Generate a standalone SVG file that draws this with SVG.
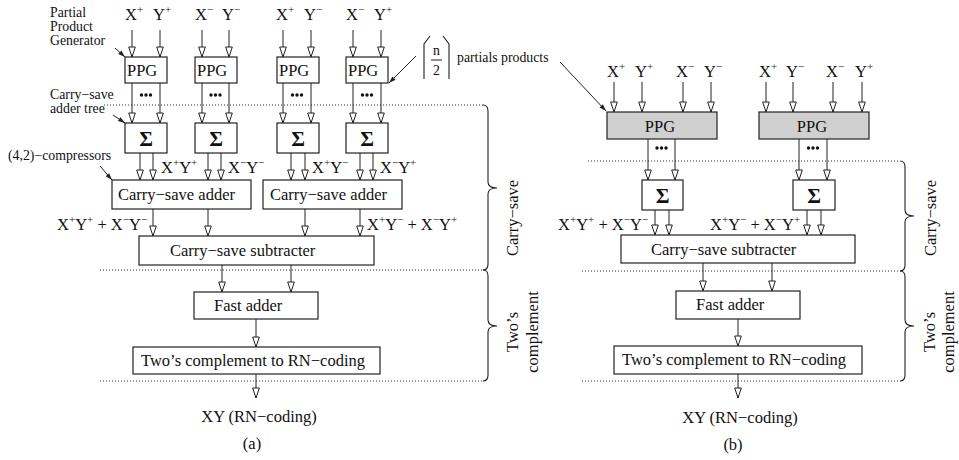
<svg xmlns="http://www.w3.org/2000/svg" width="959" height="460" viewBox="0 0 959 460">
<defs>
<style>
text{font-family:"Liberation Serif","Times New Roman",serif;fill:#111}
.t{font-size:16.5px}
.s{font-size:13.8px}
.sup{font-size:11px}
.sig{font-size:21px;font-weight:bold}
.box{fill:#fff;stroke:#222;stroke-width:1.2}
.gbox{fill:#d0d0d0;stroke:#222;stroke-width:1.2}
.ln{stroke:#222;stroke-width:1;fill:none}
.dot{stroke:#333;stroke-width:1;stroke-dasharray:1 2;fill:none}
.br{stroke:#222;stroke-width:1.1;fill:none}
</style>
<marker id="oa" viewBox="-1 -4.5 12 9" markerWidth="12" markerHeight="9" refX="10" refY="0" orient="auto" markerUnits="userSpaceOnUse"><path d="M0,-3.3 L10,0 L0,3.3 Z" fill="#fff" stroke="#222" stroke-width="1"/></marker>
<marker id="fa" viewBox="-1 -3 9 6" markerWidth="9" markerHeight="6" refX="7" refY="0" orient="auto" markerUnits="userSpaceOnUse"><path d="M0,-2.3 L7,0 L0,2.3 Z" fill="#222"/></marker>
</defs>
<rect width="959" height="460" fill="#fff"/>

<!-- separators and braces -->
<g id="separators">
<path class="dot" d="M104,105 H483 M100,270 H483 M100,381 H483"/>
<path class="dot" d="M588,161 H900 M582,271 H900 M582,381 H900"/>
<path class="br" d="M483,105 Q488,105 488,111 L488,182 Q488,188 497,188 Q488,188 488,194 L488,264 Q488,270 483,270"/>
<path class="br" d="M483,270 Q488,270 488,276 L488,320 Q488,326 497,326 Q488,326 488,332 L488,375 Q488,381 483,381"/>
<path class="br" d="M900,161 Q905,161 905,167 L905,210 Q905,216 914,216 Q905,216 905,222 L905,265 Q905,271 900,271"/>
<path class="br" d="M900,271 Q905,271 905,277 L905,320 Q905,326 914,326 Q905,326 905,332 L905,375 Q905,381 900,381"/>
<text class="t" text-anchor="middle" transform="translate(518,218) rotate(-90)">Carry−save</text>
<text class="t" text-anchor="middle" transform="translate(518,332) rotate(-90)">Two’s</text>
<text class="t" text-anchor="middle" transform="translate(538,332) rotate(-90)">complement</text>
<text class="t" text-anchor="middle" transform="translate(936,218) rotate(-90)">Carry−save</text>
<text class="t" text-anchor="middle" transform="translate(935,332) rotate(-90)">Two’s</text>
<text class="t" text-anchor="middle" transform="translate(954,332) rotate(-90)">complement</text>
</g>

<!-- annotations -->
<g id="annotations">
<text class="s" x="50" y="16.5">Partial</text>
<text class="s" x="50" y="30.5">Product</text>
<text class="s" x="50" y="44.5">Generator</text>
<text class="s" x="50" y="99">Carry−save</text>
<text class="s" x="50" y="113">adder tree</text>
<text class="s" x="8" y="160">(4,2)−compressors</text>
<path class="br" d="M424,79 L424,44 L430,36 M449,79 L449,44 L443,36 M431,60 H442"/>
<text class="s" x="436.5" y="55" text-anchor="middle">n</text>
<text class="s" x="436.5" y="75" text-anchor="middle">2</text>
<text class="s" x="457" y="62">partials products</text>
</g>

<!-- input labels (a) -->
<g id="inputs-a" class="t">
<text x="125" y="20">X<tspan class="sup" dy="-7">+</tspan></text>
<text x="153" y="20">Y<tspan class="sup" dy="-7">+</tspan></text>
<text x="195" y="20">X<tspan class="sup" dy="-7">−</tspan></text>
<text x="222" y="20">Y<tspan class="sup" dy="-7">−</tspan></text>
<text x="276" y="20">X<tspan class="sup" dy="-7">+</tspan></text>
<text x="304" y="20">Y<tspan class="sup" dy="-7">−</tspan></text>
<text x="346" y="20">X<tspan class="sup" dy="-7">−</tspan></text>
<text x="374" y="20">Y<tspan class="sup" dy="-7">+</tspan></text>
</g>
<!-- input labels (b) -->
<g id="inputs-b" class="t">
<text x="607" y="77">X<tspan class="sup" dy="-7">+</tspan></text>
<text x="635" y="77">Y<tspan class="sup" dy="-7">+</tspan></text>
<text x="676" y="77">X<tspan class="sup" dy="-7">−</tspan></text>
<text x="704" y="77">Y<tspan class="sup" dy="-7">−</tspan></text>
<text x="759" y="77">X<tspan class="sup" dy="-7">+</tspan></text>
<text x="786" y="77">Y<tspan class="sup" dy="-7">−</tspan></text>
<text x="826" y="77">X<tspan class="sup" dy="-7">−</tspan></text>
<text x="855" y="77">Y<tspan class="sup" dy="-7">+</tspan></text>
</g>

<!-- nodes (a) -->
<g id="ppg-a1"><rect class="box" x="125" y="57" width="42" height="26"/><text class="t" x="127" y="76">PPG</text></g>
<g id="ppg-a2"><rect class="box" x="195" y="57" width="42" height="26"/><text class="t" x="197" y="76">PPG</text></g>
<g id="ppg-a3"><rect class="box" x="277" y="57" width="42" height="26"/><text class="t" x="279" y="76">PPG</text></g>
<g id="ppg-a4"><rect class="box" x="346" y="57" width="42" height="26"/><text class="t" x="348" y="76">PPG</text></g>
<g id="sum-a1"><rect class="box" x="125" y="123" width="42" height="30"/><text class="sig" x="146" y="145.5" text-anchor="middle">Σ</text></g>
<g id="sum-a2"><rect class="box" x="195" y="123" width="42" height="30"/><text class="sig" x="216" y="145.5" text-anchor="middle">Σ</text></g>
<g id="sum-a3"><rect class="box" x="277" y="123" width="42" height="30"/><text class="sig" x="298" y="145.5" text-anchor="middle">Σ</text></g>
<g id="sum-a4"><rect class="box" x="346" y="123" width="42" height="30"/><text class="sig" x="367" y="145.5" text-anchor="middle">Σ</text></g>
<g id="csa-a1"><rect class="box" x="112" y="180" width="139" height="29"/><text class="t" x="118" y="200">Carry−save adder</text></g>
<g id="csa-a2"><rect class="box" x="263" y="180" width="139" height="29"/><text class="t" x="270" y="200">Carry−save adder</text></g>
<g id="sub-a"><rect class="box" x="139" y="236" width="235" height="29"/><text class="t" x="170" y="256">Carry−save subtracter</text></g>
<g id="fast-a"><rect class="box" x="194" y="292" width="124" height="27"/><text class="t" x="214" y="311">Fast adder</text></g>
<g id="conv-a"><rect class="box" x="133" y="347" width="247" height="27"/><text class="t" x="141" y="366">Two’s complement to RN−coding</text></g>
<g id="out-a"><text class="t" x="259" y="422" text-anchor="middle">XY (RN−coding)</text><text class="t" x="252" y="449" text-anchor="middle">(a)</text></g>

<!-- nodes (b) -->
<g id="ppg-b1"><rect class="gbox" x="607" y="112" width="110" height="27"/><text class="t" x="660" y="132" text-anchor="middle">PPG</text></g>
<g id="ppg-b2"><rect class="gbox" x="759" y="112" width="110" height="27"/><text class="t" x="812" y="132" text-anchor="middle">PPG</text></g>
<g id="sum-b1"><rect class="box" x="642" y="180" width="41" height="30"/><text class="sig" x="662.5" y="202.5" text-anchor="middle">Σ</text></g>
<g id="sum-b2"><rect class="box" x="793" y="180" width="42" height="30"/><text class="sig" x="814" y="202.5" text-anchor="middle">Σ</text></g>
<g id="sub-b"><rect class="box" x="621" y="235" width="234" height="28"/><text class="t" x="651" y="255">Carry−save subtracter</text></g>
<g id="fast-b"><rect class="box" x="676" y="291" width="124" height="28"/><text class="t" x="696" y="310">Fast adder</text></g>
<g id="conv-b"><rect class="box" x="614" y="346" width="248" height="28"/><text class="t" x="622" y="365">Two’s complement to RN−coding</text></g>
<g id="out-b"><text class="t" x="740" y="423" text-anchor="middle">XY (RN−coding)</text><text class="t" x="733" y="450" text-anchor="middle">(b)</text></g>

<!-- intermediate labels -->
<g id="labels" class="t">
<text x="161" y="173">X<tspan class="sup" dy="-7">+</tspan><tspan dy="7">Y</tspan><tspan class="sup" dy="-7">+</tspan></text>
<text x="228" y="173">X<tspan class="sup" dy="-7">−</tspan><tspan dy="7">Y</tspan><tspan class="sup" dy="-7">−</tspan></text>
<text x="312" y="173">X<tspan class="sup" dy="-7">+</tspan><tspan dy="7">Y</tspan><tspan class="sup" dy="-7">−</tspan></text>
<text x="380" y="173">X<tspan class="sup" dy="-7">−</tspan><tspan dy="7">Y</tspan><tspan class="sup" dy="-7">+</tspan></text>
<text x="57" y="230">X<tspan class="sup" dy="-7">+</tspan><tspan dy="7">Y</tspan><tspan class="sup" dy="-7">+</tspan><tspan dy="7"> + X</tspan><tspan class="sup" dy="-7">−</tspan><tspan dy="7">Y</tspan><tspan class="sup" dy="-7">−</tspan></text>
<text x="367" y="230">X<tspan class="sup" dy="-7">+</tspan><tspan dy="7">Y</tspan><tspan class="sup" dy="-7">−</tspan><tspan dy="7"> + X</tspan><tspan class="sup" dy="-7">−</tspan><tspan dy="7">Y</tspan><tspan class="sup" dy="-7">+</tspan></text>
<text x="558" y="230">X<tspan class="sup" dy="-7">+</tspan><tspan dy="7">Y</tspan><tspan class="sup" dy="-7">+</tspan><tspan dy="7"> + X</tspan><tspan class="sup" dy="-7">−</tspan><tspan dy="7">Y</tspan><tspan class="sup" dy="-7">−</tspan></text>
<text x="710" y="230">X<tspan class="sup" dy="-7">+</tspan><tspan dy="7">Y</tspan><tspan class="sup" dy="-7">−</tspan><tspan dy="7"> + X</tspan><tspan class="sup" dy="-7">−</tspan><tspan dy="7">Y</tspan><tspan class="sup" dy="-7">+</tspan></text>
</g>

<!-- connectors -->
<g id="connectors">
<g class="ln" marker-end="url(#oa)">
<path d="M132,30V57"/><path d="M160,30V57"/><path d="M202,30V57"/><path d="M229,30V57"/>
<path d="M283,30V57"/><path d="M311,30V57"/><path d="M353,30V57"/><path d="M381,30V57"/>
<path d="M132,83V123"/><path d="M160,83V123"/><path d="M202,83V123"/><path d="M229,83V123"/>
<path d="M283,83V123"/><path d="M311,83V123"/><path d="M353,83V123"/><path d="M381,83V123"/>
<path d="M140,153V180"/><path d="M153,153V180"/><path d="M208,153V180"/><path d="M221,153V180"/>
<path d="M291,153V180"/><path d="M305,153V180"/><path d="M360,153V180"/><path d="M373,153V180"/>
<path d="M153,209V236"/><path d="M208,209V236"/><path d="M305,209V236"/><path d="M360,209V236"/>
<path d="M222,265V292"/><path d="M291,265V292"/>
<path d="M256,319V347"/><path d="M256,374V398"/>
<path d="M614,82V112"/><path d="M642,82V112"/><path d="M683,82V112"/><path d="M711,82V112"/>
<path d="M766,82V112"/><path d="M793,82V112"/><path d="M833,82V112"/><path d="M862,82V112"/>
<path d="M648,139V180"/><path d="M675,139V180"/><path d="M799,139V180"/><path d="M827,139V180"/>
<path d="M655,210V235"/><path d="M669,210V235"/><path d="M807,210V235"/><path d="M821,210V235"/>
<path d="M703,263V291"/><path d="M772,263V291"/>
<path d="M738,319V346"/><path d="M738,374V398"/>
</g>
<g class="ln" marker-end="url(#fa)">
<path d="M115,48L125,57"/>
<path d="M113,115L125,123"/>
<path d="M100,166L112,180"/>
<path d="M416,56L389,83"/>
<path d="M560,62L606,111"/>
</g>
<g fill="#111">
<circle cx="141.5" cy="95" r="1.7"/><circle cx="146" cy="95" r="1.7"/><circle cx="150.5" cy="95" r="1.7"/>
<circle cx="211" cy="95" r="1.7"/><circle cx="215.5" cy="95" r="1.7"/><circle cx="220" cy="95" r="1.7"/>
<circle cx="292.5" cy="95" r="1.7"/><circle cx="297" cy="95" r="1.7"/><circle cx="301.5" cy="95" r="1.7"/>
<circle cx="362.5" cy="95" r="1.7"/><circle cx="367" cy="95" r="1.7"/><circle cx="371.5" cy="95" r="1.7"/>
<circle cx="657" cy="148" r="1.7"/><circle cx="661.5" cy="148" r="1.7"/><circle cx="666" cy="148" r="1.7"/>
<circle cx="808.5" cy="148" r="1.7"/><circle cx="813" cy="148" r="1.7"/><circle cx="817.5" cy="148" r="1.7"/>
</g>
</g>
</svg>
